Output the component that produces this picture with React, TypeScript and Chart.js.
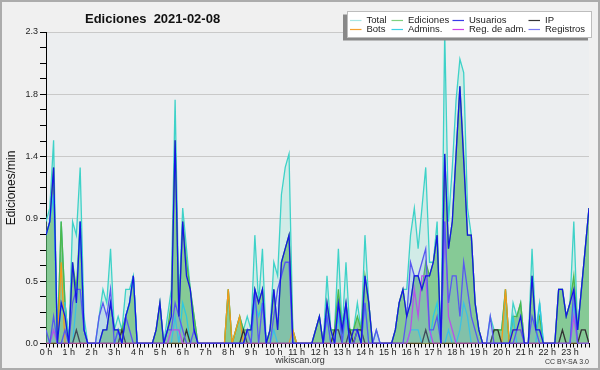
import React, { useEffect, useRef } from "react";
import { Chart, registerables } from "chart.js";

Chart.register(...registerables);

// 10-minute slots, 0..143
const slots: number[] = Array.from({ length: 144 }, (_, i) => i);
const hourLabels = ["0 h","1 h","2 h","3 h","4 h","5 h","6 h","7 h","8 h","9 h","10 h","11 h","12 h","13 h","14 h","15 h","16 h","17 h","18 h","19 h","20 h","21 h","22 h","23 h"];
const yTickLabels = ["0.0", "0.5", "0.9", "1.4", "1.8", "2.3"];
const yMax = 2.3;

const total = [
  0.9,1.0,1.5,0,0.9,0.3,0,0.9,0.8,1.3,0.2,0,
  0,0,0.2,0.4,0.3,0.7,0.1,0.2,0.1,0.4,0.4,0.5,
  0,0,0,0,0,0.1,0.3,0,0.2,0.4,1.8,0.3,
  1.0,0.7,0.4,0.2,0,0,0,0,0,0,0,0,
  0.4,0,0.1,0.2,0.1,0.2,0.1,0.8,0.3,0.7,0,0.1,
  0.6,0.5,1.1,1.3,1.4,0.1,0,0,0,0,0,0.1,
  0.2,0,0.5,0.1,0.1,0.7,0.1,0.6,0.1,0.1,0.3,0.1,
  0.8,0.3,0,0.1,0,0,0,0,0.1,0.3,0.4,0.4,
  0.8,1.0,0.7,1.0,1.3,0.6,0.6,0.9,0,2.3,0.9,1.3,
  1.8,2.1,2.0,1.0,0.8,0.3,0.1,0,0,0.2,0.1,0.1,
  0.1,0.4,0,0.3,0.2,0.3,0,0,0.7,0.1,0.3,0,
  0,0,0,0.4,0.4,0.2,0.3,0.9,0.1,0.4,0.7,1.0,
];
const ediciones = [
  0.8,0.9,1.3,0,0.9,0.3,0,0.6,0.4,0.9,0.1,0,
  0,0,0,0.1,0.1,0.3,0.1,0.1,0.1,0.2,0.3,0.5,
  0,0,0,0,0,0.1,0.3,0,0.1,0.3,1.5,0.2,
  0.9,0.6,0.4,0.2,0,0,0,0,0,0,0,0,
  0.4,0,0.1,0.2,0.1,0.1,0.1,0.4,0.3,0.4,0,0.1,
  0.4,0.1,0.6,0.7,0.8,0.1,0,0,0,0,0,0.1,
  0.2,0,0.3,0.1,0.1,0.4,0.1,0.3,0.1,0.1,0.2,0.1,
  0.5,0.3,0,0,0,0,0,0,0.1,0.3,0.4,0.2,
  0.3,0.5,0.5,0.4,0.6,0.5,0.6,0.8,0,1.4,0.7,0.9,
  1.4,1.9,1.4,0.8,0.8,0.3,0.1,0,0,0,0.1,0.1,
  0.1,0.4,0,0.2,0.2,0.3,0,0,0.5,0.1,0.2,0,
  0,0,0,0.4,0.4,0.2,0.3,0.5,0.1,0.4,0.7,1.0,
];
const usuarios = [
  0.8,0.9,1.3,0,0.3,0.2,0,0.6,0.3,0.9,0.1,0,
  0,0,0,0.1,0.1,0.3,0.1,0.1,0,0.2,0.3,0.5,
  0,0,0,0,0,0.1,0.3,0,0.1,0.2,1.5,0.2,
  0.9,0.5,0.4,0.1,0,0,0,0,0,0,0,0,
  0,0,0,0,0,0.1,0.1,0.4,0.3,0.4,0,0.1,
  0.4,0.1,0.6,0.7,0.8,0,0,0,0,0,0,0.1,
  0.2,0,0.3,0.1,0,0.3,0.1,0.3,0,0.1,0.1,0,
  0.5,0.3,0,0,0,0,0,0,0.1,0.3,0.4,0.2,
  0.3,0.5,0.5,0.4,0.5,0.5,0.6,0.8,0,1.4,0.7,0.9,
  1.4,1.9,1.35,0.8,0.8,0.3,0.1,0,0,0,0,0,
  0,0,0,0.1,0.1,0.2,0,0,0.5,0.1,0.1,0,
  0,0,0,0.4,0.4,0.2,0.3,0.4,0.1,0.4,0.7,1.0,
];
const ip = [
  0,0,0,0,0,0,0,0,0.1,0,0,0,
  0,0,0,0,0,0,0,0,0.1,0,0,0,
  0,0,0,0,0,0,0,0,0,0,0,0,
  0,0.1,0,0,0,0,0,0,0,0,0,0,
  0,0,0,0,0.1,0,0,0,0,0,0,0,
  0,0,0,0,0,0,0,0,0,0,0,0,
  0,0,0,0,0.1,0.1,0,0,0.1,0,0.1,0.1,
  0,0,0,0,0,0,0,0,0,0,0,0,
  0,0,0,0,0.1,0,0,0,0,0,0,0,
  0,0,0,0,0,0,0,0,0,0,0.1,0.1,
  0,0,0,0,0,0,0,0,0,0,0,0,
  0,0,0,0,0.1,0,0,0,0,0.1,0.1,0,
];
const bots = [
  0,0,0,0,0.6,0,0,0,0,0,0,0,
  0,0,0,0,0,0,0,0,0,0,0,0,
  0,0,0,0,0,0,0,0,0,0,0,0,
  0,0,0,0,0,0,0,0,0,0,0,0,
  0.4,0,0.1,0.2,0,0,0,0,0,0,0,0,
  0,0,0,0,0,0.1,0,0,0,0,0,0,
  0,0,0,0,0,0,0,0,0,0,0,0,
  0,0,0,0,0,0,0,0,0,0,0,0,
  0,0,0,0,0,0,0,0,0,0,0,0,
  0,0,0,0,0,0,0,0,0,0,0,0,
  0,0.4,0,0.1,0.1,0.1,0,0,0,0,0,0,
  0,0,0,0,0,0,0,0,0,0,0,0,
];
const admins = [
  0.8,0.9,1.1,0,0.3,0.3,0,0,0.3,0.9,0.1,0,
  0,0,0,0,0,0,0,0.1,0,0.2,0.3,0.5,
  0,0,0,0,0,0,0,0,0,0,0.2,0,
  0.3,0.2,0,0,0,0,0,0,0,0,0,0,
  0,0,0,0,0,0,0,0.3,0.2,0.3,0,0,
  0.1,0,0,0,0,0,0,0,0,0,0,0,
  0,0,0.2,0,0,0.2,0,0.2,0,0,0,0,
  0.3,0,0,0,0,0,0,0,0,0,0,0,
  0.1,0.1,0.1,0,0,0,0.2,0.3,0,0,0.1,0,
  0,0.1,0.3,0.2,0,0,0,0,0,0,0,0,
  0,0,0,0.2,0,0,0,0,0,0,0.3,0,
  0,0,0,0,0,0,0,0.3,0,0,0,0,
];
const regAdm = [
  0,0,0.1,0,0,0,0,0,0,0,0,0,
  0,0,0,0,0,0,0,0,0,0,0,0,
  0,0,0,0,0,0,0,0,0,0.1,0.1,0.1,
  0,0,0,0,0,0,0,0,0,0,0,0,
  0,0,0,0,0,0,0,0,0,0,0,0,
  0,0,0,0,0,0,0,0,0,0,0,0,
  0,0,0,0,0,0,0,0,0,0,0,0,
  0,0,0,0,0,0,0,0,0,0,0,0,
  0.1,0.4,0.2,0.5,0.5,0.1,0,0,0,0.9,0.2,0.1,
  0,0,0,0,0,0,0,0,0,0,0,0,
  0,0,0,0,0,0,0,0,0,0,0,0,
  0,0,0,0,0,0,0,0.2,0,0,0,0,
];
const registros = [
  0.1,0,0.2,0,0,0.1,0,0.3,0.4,0.4,0.1,0,
  0,0,0.2,0.3,0.2,0.4,0,0.1,0,0.2,0.1,0,
  0,0,0,0,0,0,0,0,0.1,0.1,0.3,0.2,
  0.1,0,0,0.1,0,0,0,0,0,0,0,0,
  0,0,0,0,0,0.1,0,0.4,0,0.3,0,0,
  0.2,0.4,0.5,0.6,0.6,0,0,0,0,0,0,0,
  0,0,0.2,0,0,0.3,0,0.3,0,0,0.1,0,
  0.3,0,0,0.1,0,0,0,0,0,0,0,0.2,
  0.6,0.5,0.5,0.6,0.7,0.1,0.1,0.2,0,0.9,0.3,0.5,
  0.5,0.2,0.6,0.4,0.2,0.1,0,0,0,0.2,0,0,
  0,0,0,0,0.1,0.1,0,0,0.2,0.1,0,0,
  0,0,0,0,0,0,0,0.4,0,0,0,0,
];

const legendNames = ["Total", "Ediciones", "Usuarios", "IP", "Bots", "Admins.", "Reg. de adm.", "Registros"];
const legendColors = ["#a6e6e4", "#7fd07f", "#3a3ae8", "#333333", "#f5a030", "#3cd0e4", "#d040e8", "#7a7af2"];

const toXY = (arr: number[]) => arr.map((v, i) => ({ x: slots[i], y: v }));

const FONT = "'Liberation Sans', Arial, sans-serif";

const decor = {
  id: "decor",
  beforeDraw(chart: any) {
    const { ctx, chartArea: a } = chart;
    ctx.save();
    ctx.fillStyle = "#f0f0f0";
    ctx.fillRect(0, 0, 600, 370);
    ctx.strokeStyle = "#acacac";
    ctx.lineWidth = 2;
    ctx.strokeRect(1, 1, 598, 368);
    ctx.fillStyle = "#eceef0";
    ctx.fillRect(a.left, a.top, a.right - a.left, a.bottom - a.top);
    ctx.restore();
  },
  afterDraw(chart: any) {
    const { ctx } = chart;
    ctx.save();
    // title
    ctx.fillStyle = "#111";
    ctx.font = `bold 13px ${FONT}`;
    ctx.textBaseline = "middle";
    ctx.textAlign = "left";
    ctx.fillText("Ediciones  2021-02-08", 85, 19);
    // y title
    ctx.save();
    ctx.translate(12, 188);
    ctx.rotate(-Math.PI / 2);
    ctx.textAlign = "center";
    ctx.font = `12px ${FONT}`;
    ctx.fillText("Ediciones/min", 0, 0);
    ctx.restore();
    // footer
    ctx.fillStyle = "#333";
    ctx.font = `9px ${FONT}`;
    ctx.textAlign = "center";
    ctx.fillText("wikiscan.org", 300, 361);
    ctx.font = `7px ${FONT}`;
    ctx.textAlign = "right";
    ctx.fillText("CC BY-SA 3.0", 589, 362);
    // legend
    ctx.fillStyle = "#888";
    ctx.fillRect(343, 14.5, 245, 26);
    ctx.fillStyle = "#ffffff";
    ctx.fillRect(347, 11.5, 245, 26);
    ctx.strokeStyle = "#bdbdbd";
    ctx.lineWidth = 1;
    ctx.strokeRect(347.5, 11.5, 244, 26);
    const textX = [366.5, 408, 469, 545];
    const rowY = [20, 29];
    ctx.font = `9.5px ${FONT}`;
    ctx.textAlign = "left";
    legendNames.forEach((name, k) => {
      const col = k % 4;
      const row = Math.floor(k / 4);
      const tx = textX[col];
      const y = rowY[row];
      ctx.strokeStyle = legendColors[k];
      ctx.lineWidth = 1.2;
      ctx.beginPath();
      ctx.moveTo(tx - 16.5, y + 0.5);
      ctx.lineTo(tx - 5, y + 0.5);
      ctx.stroke();
      ctx.fillStyle = "#222";
      ctx.fillText(name, tx, y);
    });
    ctx.restore();
  },
};

export default function App() {
  const ref = useRef<HTMLCanvasElement | null>(null);
  useEffect(() => {
    document.body.style.margin = "0";
    if (!ref.current) return;
    const line = (label: string, data: number[], color: string, order: number, fill?: string) => ({
      label,
      data: toXY(data),
      borderColor: color,
      backgroundColor: fill || color,
      fill: fill ? "origin" : false,
      borderWidth: 1.3,
      pointRadius: 0,
      tension: 0,
      order,
    });
    const chart = new Chart(ref.current, {
      type: "line",
      data: {
        datasets: [
          line("Total", total, "#3ed2c8", 8, "rgba(160,228,215,0.35)"),
          line("Ediciones", ediciones, "#4cb84c", 6, "rgba(60,170,70,0.5)"),
          line("Usuarios", usuarios, "#1616e6", 0),
          line("IP", ip, "#333333", 3),
          line("Bots", bots, "#f39a1a", 4),
          line("Admins.", admins, "#2ec8e0", 5),
          line("Reg. de adm.", regAdm, "#c83ce8", 2),
          line("Registros", registros, "#5858f0", 1, "rgba(120,165,235,0.22)"),
        ] as any,
      },
      options: {
        animation: false,
        responsive: false,
        devicePixelRatio: 1,
        layout: { padding: { top: 32, right: 11, left: 0, bottom: 0 } },
        plugins: { legend: { display: false }, tooltip: { enabled: false }, title: { display: false } },
        scales: {
          x: {
            type: "linear",
            min: 0,
            max: slots[slots.length - 1],
            afterBuildTicks: (scale: any) => {
              scale.ticks = slots.map((v) => ({ value: v }));
            },
            afterFit: (scale: any) => {
              scale.height = 26.5;
            },
            ticks: {
              autoSkip: false,
              maxRotation: 0,
              padding: 0,
              color: "#222",
              font: { family: FONT, size: 9 },
              callback: (v: any) => (Number(v) % 6 === 0 ? hourLabels[Number(v) / 6] : ""),
            },
            grid: { drawOnChartArea: false, drawTicks: true, tickLength: 4, tickColor: "#000" },
            border: { display: true, color: "#000", width: 1 },
          },
          y: {
            min: 0,
            max: yMax,
            afterBuildTicks: (scale: any) => {
              const n = (yTickLabels.length - 1) * 4;
              scale.ticks = Array.from({ length: n + 1 }, (_, k) => ({ value: (yMax * k) / n }));
            },
            afterFit: (scale: any) => {
              scale.width = 46;
            },
            ticks: {
              autoSkip: false,
              padding: 2,
              color: "#222",
              font: { family: FONT, size: 9 },
              callback: (_v: any, idx: number) => (idx % 4 === 0 ? yTickLabels[idx / 4] : ""),
            },
            grid: {
              color: (c: any) => (c.index % 4 === 0 ? "#c9c9c9" : "rgba(0,0,0,0)"),
              tickColor: "#000",
              tickLength: 6,
              lineWidth: 1,
            },
            border: { display: true, color: "#000", width: 1 },
          },
        },
      },
      plugins: [decor],
    });
    return () => chart.destroy();
  }, []);
  return <canvas ref={ref} width={600} height={370} style={{ display: "block" }} />;
}
